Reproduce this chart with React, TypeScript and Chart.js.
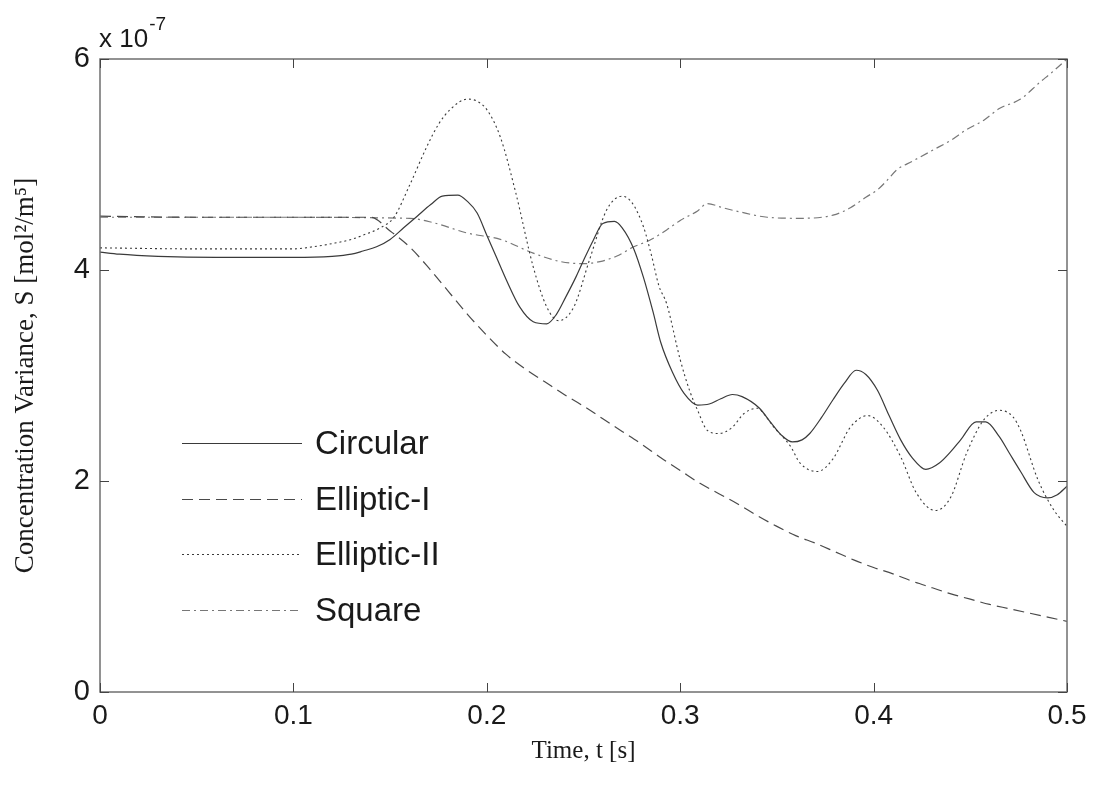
import React, { useEffect, useRef } from "react";
import { Chart, registerables } from "chart.js";

Chart.register(...registerables);

// ---- data (values in units of 1e-7 mol^2/m^5) ----
const seriesLabels = ["Circular", "Elliptic-I", "Elliptic-II", "Square"];

const circularT = [0, 0.01, 0.03, 0.06, 0.1, 0.12, 0.13, 0.136, 0.143, 0.15, 0.157, 0.164, 0.171, 0.177, 0.185, 0.19, 0.195, 0.2, 0.205, 0.21, 0.217, 0.224, 0.231, 0.236, 0.241, 0.246, 0.25, 0.255, 0.26, 0.266, 0.27, 0.276, 0.281, 0.286, 0.29, 0.296, 0.302, 0.309, 0.315, 0.321, 0.327, 0.332, 0.341, 0.347, 0.352, 0.358, 0.363, 0.367, 0.373, 0.379, 0.385, 0.391, 0.396, 0.402, 0.408, 0.414, 0.42, 0.427, 0.434, 0.44, 0.445, 0.453, 0.458, 0.465, 0.47, 0.476, 0.483, 0.49, 0.495, 0.5];
const circularS = [4.17, 4.15, 4.13, 4.12, 4.12, 4.13, 4.15, 4.18, 4.22, 4.29, 4.4, 4.51, 4.62, 4.7, 4.71, 4.65, 4.54, 4.33, 4.12, 3.91, 3.65, 3.51, 3.49, 3.58, 3.75, 3.93, 4.09, 4.28, 4.44, 4.46, 4.4, 4.2, 3.93, 3.6, 3.31, 3.03, 2.83, 2.72, 2.73, 2.78, 2.82, 2.8, 2.69, 2.55, 2.44, 2.37, 2.39, 2.45, 2.6, 2.77, 2.93, 3.05, 3.01, 2.86, 2.62, 2.39, 2.22, 2.11, 2.17, 2.28, 2.39, 2.56, 2.56, 2.42, 2.27, 2.09, 1.89, 1.84, 1.87, 1.95];

const ellipticIT = [0, 0.05, 0.1, 0.14, 0.15, 0.16, 0.17, 0.18, 0.19, 0.2, 0.21, 0.22, 0.23, 0.24, 0.25, 0.26, 0.27, 0.28, 0.29, 0.3, 0.31, 0.32, 0.33, 0.34, 0.35, 0.36, 0.37, 0.38, 0.39, 0.4, 0.41, 0.42, 0.43, 0.44, 0.45, 0.46, 0.47, 0.48, 0.49, 0.5];
const ellipticIS = [4.51, 4.5, 4.5, 4.5, 4.37, 4.22, 4.02, 3.8, 3.58, 3.38, 3.2, 3.06, 2.94, 2.82, 2.71, 2.59, 2.47, 2.35, 2.22, 2.1, 1.98, 1.88, 1.78, 1.67, 1.57, 1.48, 1.41, 1.33, 1.25, 1.18, 1.12, 1.05, 0.99, 0.93, 0.88, 0.83, 0.79, 0.75, 0.71, 0.67];

const ellipticIIT = [0, 0.05, 0.1, 0.11, 0.12, 0.13, 0.136, 0.145, 0.152, 0.16, 0.169, 0.175, 0.181, 0.19, 0.195, 0.2, 0.207, 0.215, 0.224, 0.231, 0.237, 0.245, 0.253, 0.262, 0.27, 0.275, 0.281, 0.285, 0.289, 0.293, 0.3, 0.305, 0.309, 0.314, 0.32, 0.327, 0.333, 0.34, 0.344, 0.348, 0.357, 0.362, 0.371, 0.379, 0.388, 0.397, 0.405, 0.414, 0.422, 0.432, 0.44, 0.448, 0.457, 0.465, 0.472, 0.476, 0.485, 0.493, 0.5];
const ellipticIIS = [4.21, 4.2, 4.2, 4.22, 4.25, 4.29, 4.33, 4.4, 4.5, 4.8, 5.17, 5.38, 5.52, 5.62, 5.6, 5.52, 5.26, 4.73, 4.03, 3.65, 3.52, 3.65, 4.09, 4.57, 4.7, 4.64, 4.41, 4.15, 3.85, 3.68, 3.15, 2.85, 2.67, 2.48, 2.45, 2.51, 2.64, 2.69, 2.62, 2.52, 2.33, 2.17, 2.09, 2.21, 2.51, 2.62, 2.51, 2.23, 1.89, 1.72, 1.85, 2.26, 2.58, 2.67, 2.61, 2.48, 2.01, 1.73, 1.57];

const squareT = [0, 0.08, 0.16, 0.172, 0.19, 0.207, 0.224, 0.238, 0.25, 0.2585, 0.267, 0.276, 0.284, 0.293, 0.3, 0.309, 0.314, 0.322, 0.331, 0.345, 0.362, 0.379, 0.388, 0.396, 0.402, 0.407, 0.412, 0.42, 0.431, 0.44, 0.448, 0.457, 0.465, 0.476, 0.486, 0.492, 0.5];
const squareS = [4.5, 4.5, 4.49, 4.45, 4.35, 4.29, 4.16, 4.08, 4.06, 4.08, 4.13, 4.22, 4.28, 4.38, 4.47, 4.56, 4.63, 4.59, 4.55, 4.5, 4.49, 4.52, 4.59, 4.69, 4.76, 4.85, 4.95, 5.03, 5.14, 5.23, 5.33, 5.42, 5.53, 5.62, 5.78, 5.87, 6.0];

const xTicks = [0, 0.1, 0.2, 0.3, 0.4, 0.5];
const yTicks = [0, 2, 4, 6];
const yExponent = "-7";
const xTitle = "Time, t [s]";
const yTitle = "Concentration Variance, S [mol\u00B2/m\u2075]";

const SANS = "'Liberation Sans', Arial, sans-serif";
const SERIF = "'Liberation Serif', 'Times New Roman', serif";

const toPoints = (t: number[], s: number[]) => t.map((x, i) => ({ x, y: s[i] }));

const framePlugin = {
  id: "matlabFrame",
  afterDatasetsDraw(chart: any) {
    const { ctx, chartArea: a, scales } = chart;
    ctx.save();
    // box
    ctx.strokeStyle = "#6f6f6f";
    ctx.lineWidth = 1.5;
    ctx.setLineDash([]);
    ctx.strokeRect(a.left, a.top, a.right - a.left, a.bottom - a.top);
    // inward ticks
    ctx.strokeStyle = "#444";
    ctx.lineWidth = 1;
    const tl = 9;
    ctx.beginPath();
    for (const v of xTicks) {
      const x = Math.round(scales.x.getPixelForValue(v)) + 0.5;
      ctx.moveTo(x, a.bottom);
      ctx.lineTo(x, a.bottom - tl);
      ctx.moveTo(x, a.top);
      ctx.lineTo(x, a.top + tl);
    }
    for (const v of yTicks) {
      const y = Math.round(scales.y.getPixelForValue(v)) + 0.5;
      ctx.moveTo(a.left, y);
      ctx.lineTo(a.left + tl, y);
      ctx.moveTo(a.right, y);
      ctx.lineTo(a.right - tl, y);
    }
    ctx.stroke();

    // exponent label
    ctx.fillStyle = "#1a1a1a";
    ctx.textAlign = "left";
    ctx.textBaseline = "alphabetic";
    ctx.font = `26px ${SANS}`;
    const base = "x 10";
    ctx.fillText(base, a.left - 1, a.top - 12);
    const w = ctx.measureText(base).width;
    ctx.font = `19px ${SANS}`;
    ctx.fillText(yExponent, a.left - 1 + w + 1, a.top - 29);

    // legend inside the axes
    const ds = chart.data.datasets;
    const x0 = a.left + 82;
    const x1 = a.left + 202;
    const tx = a.left + 215;
    const y0 = 443;
    const dy = 55.6;
    ds.forEach((d: any, i: number) => {
      const y = Math.round(y0 + i * dy) + 0.5;
      ctx.strokeStyle = d.borderColor;
      ctx.lineWidth = d.borderWidth;
      ctx.setLineDash(d.borderDash || []);
      ctx.beginPath();
      ctx.moveTo(x0, y);
      ctx.lineTo(x1, y);
      ctx.stroke();
      ctx.setLineDash([]);
      ctx.fillStyle = "#1a1a1a";
      ctx.font = `33px ${SANS}`;
      ctx.textBaseline = "middle";
      ctx.fillText(d.label, tx, y + 1);
    });
    ctx.restore();
  },
};

export default function App() {
  const ref = useRef<HTMLCanvasElement | null>(null);
  useEffect(() => {
    if (!ref.current) return;
    const common = { pointRadius: 0, fill: false, cubicInterpolationMode: "monotone" as const };
    const chart = new Chart(ref.current, {
      type: "line",
      data: {
        datasets: [
          { label: seriesLabels[0], data: toPoints(circularT, circularS), borderColor: "#3a3a3a", borderWidth: 1.2, borderDash: [], ...common },
          { label: seriesLabels[1], data: toPoints(ellipticIT, ellipticIS), borderColor: "#4a4a4a", borderWidth: 1.2, borderDash: [11, 6], ...common },
          { label: seriesLabels[2], data: toPoints(ellipticIIT, ellipticIIS), borderColor: "#3a3a3a", borderWidth: 1.1, borderDash: [2, 3], ...common },
          { label: seriesLabels[3], data: toPoints(squareT, squareS), borderColor: "#777777", borderWidth: 1.2, borderDash: [8, 4, 2, 4], ...common },
        ],
      },
      options: {
        animation: false,
        responsive: false,
        events: [],
        layout: { padding: { top: 59, right: 31, left: 0, bottom: 0 } },
        plugins: { legend: { display: false }, tooltip: { enabled: false } },
        scales: {
          x: {
            type: "linear",
            min: 0,
            max: 0.5,
            afterBuildTicks: (s: any) => {
              s.ticks = xTicks.map((v) => ({ value: v }));
            },
            afterFit: (s: any) => {
              s.height = 95;
            },
            grid: { display: false, drawTicks: false },
            border: { display: false },
            ticks: {
              padding: 7,
              color: "#1a1a1a",
              font: { family: SANS, size: 28 },
              maxRotation: 0,
              autoSkip: false,
              callback: (v: any) => (v === 0 ? "0" : Number(v).toFixed(1)),
            },
            title: {
              display: true,
              text: xTitle,
              color: "#1a1a1a",
              font: { family: SERIF, size: 25, lineHeight: 1.2 },
              padding: { top: 21, bottom: 21 },
            },
          },
          y: {
            type: "linear",
            min: 0,
            max: 6,
            afterBuildTicks: (s: any) => {
              s.ticks = yTicks.map((v) => ({ value: v }));
            },
            afterFit: (s: any) => {
              s.width = 100;
            },
            grid: { display: false, drawTicks: false },
            border: { display: false },
            ticks: {
              padding: 10,
              color: "#1a1a1a",
              font: { family: SANS, size: 29 },
              autoSkip: false,
              callback: (v: any) => String(v),
            },
            title: {
              display: true,
              text: yTitle,
              color: "#1a1a1a",
              font: { family: SERIF, size: 27, lineHeight: 1.2 },
              padding: { top: 10, bottom: 10 },
            },
          },
        },
      },
      plugins: [framePlugin],
    });
    return () => chart.destroy();
  }, []);
  return (
    <div style={{ position: "absolute", left: 0, top: 0, width: 1098, height: 787, background: "#fff" }}>
      <canvas ref={ref} width={1098} height={787} style={{ display: "block" }} />
    </div>
  );
}
